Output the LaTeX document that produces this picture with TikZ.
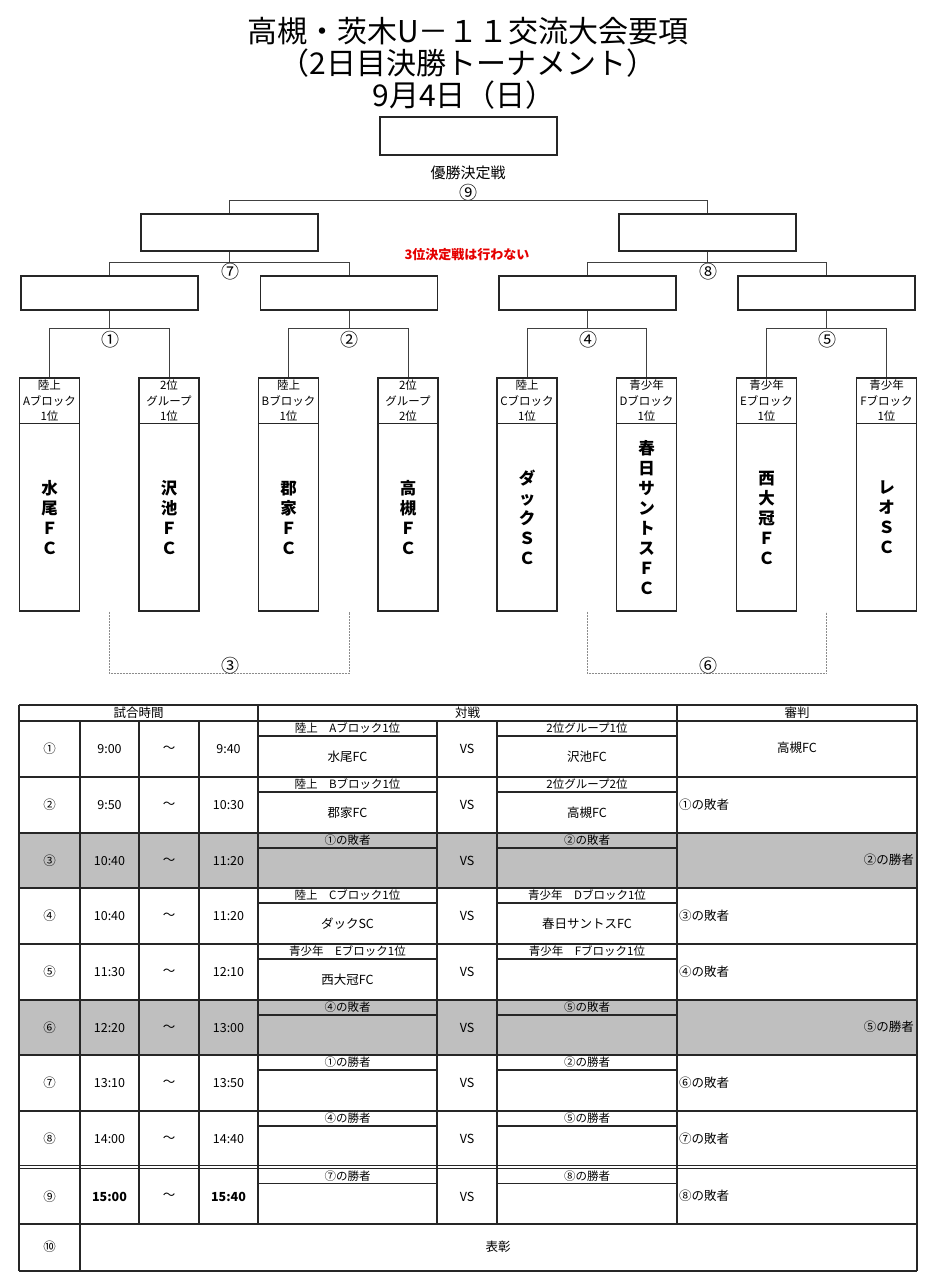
\documentclass[tikz,border=0pt]{standalone}
\usepackage{fontspec}
\setmainfont{Noto Sans CJK JP}
\usetikzlibrary{calc}
\newcommand\myfs[2]{\fontsize{#1}{#2}\selectfont}
\begin{document}
\begin{tikzpicture}[x=1pt,y=-1pt,
  box/.style={draw=black!85,line width=1.3pt,inner sep=0pt,minimum width=177pt},
  tbox/.style={draw=black!85,line width=1.3pt,inner sep=0pt,minimum width=60pt,minimum height=233pt},
  conn/.style={draw=black!75,line width=0.9pt},
  lconn/.style={draw=black!45,line width=0.7pt,dash pattern=on 2pt off 1pt},
  num/.style={font=\myfs{18}{18},inner sep=0pt},
  hdr/.style={font=\myfs{11.5}{15.5},align=center,inner sep=0pt},
  tname/.style={font=\myfs{16.5}{20}\bfseries,align=center,inner sep=0pt},
  tt/.style={font=\myfs{12.5}{14},inner sep=0pt},
  grid/.style={draw=black!85,line width=1.1pt}
]
\useasboundingbox (0,0) rectangle (928,1280);
\fill[white] (0,0) rectangle (928,1280);

% title
\node[font=\myfs{30}{32},inner sep=0pt] (title1) at (468,31.5) {高槻・茨木U－１１交流大会要項};
\node[font=\myfs{30}{32},inner sep=0pt] (title2) at (468,63) {（2日目決勝トーナメント）};
\node[font=\myfs{30}{32},inner sep=0pt] (title3) at (464,95) {9月4日（日）};

% final
\node[box,minimum height=38pt] (final) at (468.5,136) {};
\node[font=\myfs{15}{15},inner sep=0pt] (yusho) at (468,173) {優勝決定戦};
\node[num] (n9) at (468,193) {⑨};

% semifinal boxes
\node[box,minimum height=37pt] (s1) at (229.5,232.5) {};
\node[box,minimum height=37pt] (s2) at (707.5,232.5) {};
\draw[conn] (s1.north) -- ++(0,-12.5) -| (s2.north);
\node[font=\myfs{13}{13}\bfseries,text=red!90!black,inner sep=0pt] (note) at (467,255) {3位決定戦は行わない};

% quarter boxes
\node[box,minimum height=34pt] (q1) at (109.5,293) {};
\node[box,minimum height=34pt] (q2) at (349,293) {};
\node[box,minimum height=34pt] (q3) at (587.5,293) {};
\node[box,minimum height=34pt] (q4) at (826.5,293) {};
\draw[conn] (q1.north) -- ++(0,-13) coordinate (h7) -| (q2.north);
\draw[conn] (s1.south) -- (s1.south |- h7);
\draw[conn] (q3.north) -- ++(0,-13) coordinate (h8) -| (q4.north);
\draw[conn] (s2.south) -- (s2.south |- h8);
\node[num] (n7) at (230,272) {⑦};
\node[num] (n8) at (708,272) {⑧};

% team boxes
\node[tbox] (t1) at (49.5,494.5) {};
\node[tbox] (t2) at (169,494.5) {};
\node[tbox] (t3) at (288.5,494.5) {};
\node[tbox] (t4) at (408,494.5) {};
\node[tbox] (t5) at (527,494.5) {};
\node[tbox] (t6) at (646.5,494.5) {};
\node[tbox] (t7) at (766.5,494.5) {};
\node[tbox] (t8) at (886.5,494.5) {};
\foreach \i in {1,...,8}{
  \draw[draw=black!85,line width=1.2pt] ([yshift=-46pt]t\i.north west) -- ([yshift=-46pt]t\i.north east);
}
\draw[conn] (t1.north) -- ++(0,-49) coordinate (h1) -| (t2.north);
\draw[conn] (q1.south) -- (q1.south |- h1);
\draw[conn] (t3.north) -- ++(0,-49) coordinate (h2) -| (t4.north);
\draw[conn] (q2.south) -- (q2.south |- h2);
\draw[conn] (t5.north) -- ++(0,-49) coordinate (h4) -| (t6.north);
\draw[conn] (q3.south) -- (q3.south |- h4);
\draw[conn] (t7.north) -- ++(0,-49) coordinate (h5) -| (t8.north);
\draw[conn] (q4.south) -- (q4.south |- h5);
\node[num] (n1) at (110,340) {①};
\node[num] (n2) at (349,340) {②};
\node[num] (n4) at (588,340) {④};
\node[num] (n5) at (827,340) {⑤};

% team headers
\node[hdr] (th1) at (t1.center |- 0,401) {陸上\\Aブロック\\1位};
\node[hdr] (th2) at (t2.center |- 0,401) {2位\\グループ\\1位};
\node[hdr] (th3) at (t3.center |- 0,401) {陸上\\Bブロック\\1位};
\node[hdr] (th4) at (t4.center |- 0,401) {2位\\グループ\\2位};
\node[hdr] (th5) at (t5.center |- 0,401) {陸上\\Cブロック\\1位};
\node[hdr] (th6) at (t6.center |- 0,401) {青少年\\Dブロック\\1位};
\node[hdr] (th7) at (t7.center |- 0,401) {青少年\\Eブロック\\1位};
\node[hdr] (th8) at (t8.center |- 0,401) {青少年\\Fブロック\\1位};

% team names
\node[tname] (tn1) at (t1.center |- 0,517.5) {水\\尾\\Ｆ\\Ｃ};
\node[tname] (tn2) at (t2.center |- 0,517.5) {沢\\池\\Ｆ\\Ｃ};
\node[tname] (tn3) at (t3.center |- 0,517.5) {郡\\家\\Ｆ\\Ｃ};
\node[tname] (tn4) at (t4.center |- 0,517.5) {高\\槻\\Ｆ\\Ｃ};
\node[tname] (tn5) at (t5.center |- 0,517.5) {ダ\\ッ\\ク\\Ｓ\\Ｃ};
\node[tname] (tn6) at (t6.center |- 0,517.5) {春\\日\\サ\\ン\\ト\\ス\\Ｆ\\Ｃ};
\node[tname] (tn7) at (t7.center |- 0,517.5) {西\\大\\冠\\Ｆ\\Ｃ};
\node[tname] (tn8) at (t8.center |- 0,517.5) {レ\\オ\\Ｓ\\Ｃ};

% loser brackets (dashed)
\draw[lconn] (q1.south |- t1.south) -- ++(0,62) -| (q2.south |- t1.south);
\draw[lconn] (q3.south |- t1.south) -- ++(0,62) -| (q4.south |- t1.south);
\node[num] (n3) at (230,666) {③};
\node[num] (n6) at (708,666) {⑥};

% ===== table =====
\fill[black!25] (19,833) rectangle (917,888);
\fill[black!25] (19,1000) rectangle (917,1055);
\foreach \y in {705,721,777,833,888,944,1000,1055,1111,1165.5,1168.5,1224,1271}
  \draw[grid] (19,\y) -- (917,\y);
\draw[grid] (19,705) -- (19,1271);
\draw[grid] (917,705) -- (917,1271);
\draw[grid] (80,721) -- (80,1271);
\foreach \x in {139,199,437,497}
  \draw[grid] (\x,721) -- (\x,1224);
\foreach \x in {258,677}
  \draw[grid] (\x,705) -- (\x,1224);
\foreach \t in {721,777,833,888,944,1000,1055,1111,1168.5}{
  \draw[grid] (258,\t+15) -- (437,\t+15);
  \draw[grid] (497,\t+15) -- (677,\t+15);
}
\node[tt] (hd1) at (138.5,713) {試合時間};
\node[tt] (hd2) at (467.5,713) {対戦};
\node[tt] (hd3) at (797,713) {審判};

\foreach \t/\n/\s/\e/\ha/\na/\hb/\nb in {
  721/①/9:00/9:40/陸上　Aブロック1位/水尾FC/2位グループ1位/沢池FC,
  777/②/9:50/10:30/陸上　Bブロック1位/郡家FC/2位グループ2位/高槻FC,
  833/③/10:40/11:20/①の敗者//②の敗者/,
  888/④/10:40/11:20/陸上　Cブロック1位/ダックSC/青少年　Dブロック1位/春日サントスFC,
  944/⑤/11:30/12:10/青少年　Eブロック1位/西大冠FC/青少年　Fブロック1位/,
  1000/⑥/12:20/13:00/④の敗者//⑤の敗者/,
  1055/⑦/13:10/13:50/①の勝者//②の勝者/,
  1111/⑧/14:00/14:40/④の勝者//⑤の勝者/,
  1168.5/⑨/{\bfseries 15:00}/{\bfseries 15:40}/⑦の勝者//⑧の勝者/}{
  \node[tt] at (49.5,\t+28) {\n};
  \node[tt] at (109.5,\t+28) {\s};
  \node[tt] at (169,\t+28) {～};
  \node[tt] at (228.5,\t+28) {\e};
  \node[tt,font=\myfs{11.5}{13}] at (347.5,\t+7.5) {\ha};
  \node[tt] at (347.5,\t+35.5) {\na};
  \node[tt] at (467,\t+28) {VS};
  \node[tt,font=\myfs{11.5}{13}] at (587,\t+7.5) {\hb};
  \node[tt] at (587,\t+35.5) {\nb};
}
\node[tt] (r1) at (797,748) {高槻FC};
\node[tt,anchor=west] (r2) at (679,805) {①の敗者};
\node[tt,anchor=east] (r3) at (914,860) {②の勝者};
\node[tt,anchor=west] (r4) at (679,916) {③の敗者};
\node[tt,anchor=west] (r5) at (679,972) {④の敗者};
\node[tt,anchor=east] (r6) at (914,1027) {⑤の勝者};
\node[tt,anchor=west] (r7) at (679,1083) {⑥の敗者};
\node[tt,anchor=west] (r8) at (679,1139) {⑦の敗者};
\node[tt,anchor=west] (r9) at (679,1196) {⑧の敗者};
\node[tt] (n10) at (49.5,1247) {⑩};
\node[tt] (award) at (498,1247) {表彰};
\end{tikzpicture}
\end{document}
